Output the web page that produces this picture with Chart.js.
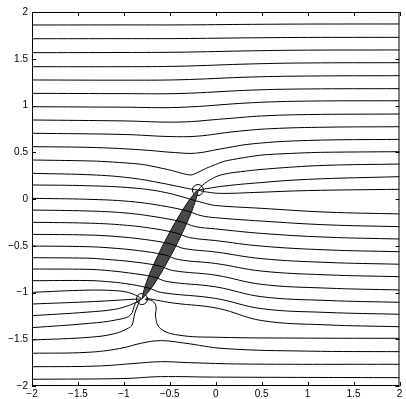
<!DOCTYPE html>
<html>
<head>
<meta charset="utf-8">
<script src="https://cdn.jsdelivr.net/npm/chart.js@4.4.1/dist/chart.umd.min.js"></script>
<style>
  html, body { margin: 0; padding: 0; background: #fff; }
  #wrap { width: 406px; height: 399px; }
</style>
</head>
<body>
<div id="wrap"><canvas id="flowChart" width="406" height="399"></canvas></div>
<script>
// axis ticks
const xTicks = [-2, -1.5, -1, -0.5, 0, 0.5, 1, 1.5, 2];
const yTicks = [-2, -1.5, -1, -0.5, 0, 0.5, 1, 1.5, 2];

// the two end points (circles)
const endPoints = [[-0.194, 0.096], [-0.803, -1.07]];

// dark band between the end points
const bandOutline = [[-0.803, -1.07], [-0.713, -0.968], [-0.603, -0.804], [-0.441, -0.517], [-0.298, -0.22],
    [-0.226, -0.035], [-0.194, 0.096], [-0.284, -0.006], [-0.394, -0.171], [-0.556, -0.457],
    [-0.699, -0.754], [-0.771, -0.938], [-0.803, -1.07]];

// streamlines (x, y)
const line01 = [[-2, 1.861], [-1, 1.862], [-0.4, 1.862], [0.4, 1.868], [1, 1.871], [2, 1.872]];
const line02 = [[-2, 1.714], [-1, 1.715], [-0.4, 1.716], [0.4, 1.724], [1, 1.728], [2, 1.729]];
const line03 = [[-2, 1.565], [-1, 1.567], [-0.4, 1.57], [0.4, 1.585], [1, 1.592], [2, 1.594]];
const line04 = [[-2, 1.415], [-1, 1.415], [-0.4, 1.42], [0.4, 1.445], [1, 1.455], [2, 1.458]];
const line05 = [[-2, 1.273], [-1, 1.271], [-0.4, 1.275], [0.4, 1.305], [1, 1.315], [2, 1.319]];
const line06 = [[-2, 1.13], [-1, 1.127], [-0.4, 1.128], [0.4, 1.165], [1, 1.177], [2, 1.18]];
const line07 = [[-2, 0.987], [-1, 0.982], [-0.4, 0.98], [0.4, 1.03], [1, 1.047], [2, 1.051]];
const line08 = [[-2, 0.845], [-1, 0.835], [-0.4, 0.823], [0.1, 0.858], [0.5, 0.888], [1, 0.903], [2, 0.909]];
const line09 = [[-2, 0.703], [-1, 0.69], [-0.5, 0.668], [-0.2, 0.672], [0.2, 0.72], [0.6, 0.752], [1.2, 0.768], [2, 0.773]];
const line10 = [[-2, 0.56], [-1.3, 0.55], [-0.8, 0.525], [-0.45, 0.497], [-0.22, 0.49], [0.05, 0.535], [0.4, 0.59], [1, 0.626], [2, 0.638]];
const line11 = [[-2, 0.417], [-1.3, 0.405], [-0.8, 0.37], [-0.5, 0.31], [-0.27, 0.257], [-0.1, 0.33], [0.1, 0.405], [0.5, 0.47], [1.1, 0.498], [2, 0.506]];
const line12 = [[-2, 0.275], [-1.3, 0.256], [-0.9, 0.222], [-0.6, 0.172], [-0.4, 0.132], [-0.26, 0.104], [-0.2, 0.097]];
// leaving the upper point
const line13 = [[-0.19, 0.1], [-0.14, 0.15], [-0.07, 0.2], [0.05, 0.255], [0.27, 0.292], [0.67, 0.33], [1.2, 0.36], [2, 0.374]];
const line14 = [[-0.19, 0.096], [-0.1, 0.11], [0.06, 0.135], [0.42, 0.17], [1, 0.21], [2, 0.239]];
const line15 = [[-0.19, 0.094], [-0.1, 0.075], [0.06, 0.06], [0.42, 0.07], [1, 0.09], [2, 0.104]];
// crossing the band
const line16 = [[-2, 0.15], [-1.4, 0.142], [-0.9, 0.118], [-0.55, 0.07], [-0.249, -0.01], [-0.1, -0.05], [0, -0.07], [0.5, -0.1], [1.2, -0.14], [2, -0.16]];
const line17 = [[-2, 0.007], [-1.4, -0.003], [-0.95, -0.025], [-0.6, -0.07], [-0.311, -0.128], [-0.161, -0.178], [0, -0.2], [0.5, -0.236], [1.2, -0.276], [2, -0.296]];
const line18 = [[-2, -0.118], [-1.4, -0.128], [-1, -0.148], [-0.66, -0.19], [-0.372, -0.245], [-0.222, -0.295], [0, -0.32], [0.5, -0.368], [1.2, -0.408], [2, -0.428]];
const line19 = [[-2, -0.249], [-1.4, -0.258], [-1.05, -0.275], [-0.72, -0.31], [-0.434, -0.363], [-0.284, -0.413], [0, -0.445], [0.5, -0.504], [1.2, -0.544], [2, -0.564]];
const line20 = [[-2, -0.378], [-1.4, -0.385], [-1.1, -0.4], [-0.78, -0.432], [-0.495, -0.48], [-0.345, -0.53], [0, -0.567], [0.5, -0.638], [1.2, -0.678], [2, -0.698]];
const line21 = [[-2, -0.503], [-1.4, -0.51], [-1.15, -0.523], [-0.84, -0.552], [-0.556, -0.598], [-0.406, -0.648], [0, -0.69], [0.5, -0.771], [1.2, -0.811], [2, -0.831]];
const line22 = [[-2, -0.628], [-1.4, -0.633], [-1.2, -0.645], [-0.9, -0.672], [-0.618, -0.715], [-0.468, -0.765], [0, -0.815], [0.5, -0.913], [1.2, -0.953], [2, -0.973]];
const line23 = [[-2, -0.749], [-1.4, -0.752], [-1.2, -0.763], [-0.95, -0.79], [-0.679, -0.833], [-0.529, -0.883], [0, -0.94], [0.5, -1.045], [1.2, -1.085], [2, -1.105]];
const line24 = [[-2, -0.874], [-1.4, -0.872], [-1.2, -0.882], [-0.98, -0.905], [-0.74, -0.95], [-0.59, -1.0], [0, -1.064], [0.5, -1.173], [1.2, -1.213], [2, -1.233]];
// into the lower point
const line25 = [[-2, -0.998], [-1.4, -0.975], [-1.1, -0.98], [-0.95, -1.0], [-0.85, -1.04], [-0.81, -1.065]];
const line26 = [[-2, -1.123], [-1.4, -1.1], [-1.1, -1.085], [-0.95, -1.075], [-0.81, -1.07]];
const line27 = [[-2, -1.248], [-1.4, -1.21], [-1.1, -1.18], [-0.95, -1.14], [-0.86, -1.1], [-0.81, -1.075]];
const line28 = [[-2, -1.376], [-1.376, -1.33], [-1.089, -1.294], [-0.928, -1.241], [-0.874, -1.116], [-0.82, -1.08]];
const line29 = [[-2, -1.508], [-1.376, -1.479], [-1.1, -1.44], [-0.95, -1.38], [-0.911, -1.348], [-0.88, -1.22], [-0.83, -1.09]];
// leaving / rounding the lower point
const line30 = [[-0.76, -1.06], [-0.6, -1.09], [-0.444, -1.115], [0.022, -1.169], [0.5, -1.3], [1.2, -1.346], [2, -1.366]];
const line31 = [[-0.77, -1.075], [-0.69, -1.09], [-0.65, -1.15], [-0.655, -1.259], [-0.605, -1.383], [-0.409, -1.455], [0.022, -1.479], [1, -1.488], [2, -1.49]];
// below
const line32 = [[-2, -1.65], [-1.4, -1.64], [-1.05, -1.6], [-0.8, -1.54], [-0.6, -1.515], [-0.35, -1.54], [0.1, -1.6], [1, -1.627], [2, -1.633]];
const line33 = [[-2, -1.794], [-1.3, -1.787], [-0.9, -1.76], [-0.6, -1.74], [-0.3, -1.75], [0.3, -1.765], [2, -1.768]];
const line34 = [[-2, -1.928], [-1, -1.92], [-0.6, -1.9], [0, -1.905], [2, -1.911]];

const streamlines = [line01, line02, line03, line04, line05, line06, line07, line08, line09, line10,
    line11, line12, line13, line14, line15, line16, line17, line18, line19, line20, line21, line22,
    line23, line24, line25, line26, line27, line28, line29, line30, line31, line32, line33, line34];

const toPoints = arr => arr.map(([x, y]) => ({ x, y }));
const fmt = v => (v < 0 ? '\u2212' + (-v) : String(v));

const datasets = streamlines.map(line => ({
    data: toPoints(line),
    showLine: true,
    borderColor: '#000',
    borderWidth: 1,
    pointRadius: 0,
    tension: line === line11 ? 0.2 : 0.4,
    fill: false
}));

datasets.push({
    data: toPoints(bandOutline),
    showLine: true,
    borderColor: '#111',
    borderWidth: 1,
    backgroundColor: '#4a4a4a',
    pointRadius: 0,
    tension: 0.3,
    fill: 'shape'
});

datasets.push({
    data: toPoints(endPoints),
    showLine: false,
    pointRadius: 5.5,
    pointBorderColor: '#000',
    pointBackgroundColor: 'rgba(0,0,0,0)',
    pointBorderWidth: 1
});

// frame and inward ticks on all four sides
const frameTicks = {
    id: 'frameTicks',
    afterDatasetsDraw(chart) {
        const { ctx, chartArea: a, scales } = chart;
        ctx.save();
        ctx.strokeStyle = '#000';
        ctx.lineWidth = 1;
        ctx.strokeRect(a.left + 0.5, a.top + 0.5, a.right - a.left - 1, a.bottom - a.top - 1);
        ctx.beginPath();
        xTicks.forEach(v => {
            const px = Math.round(scales.x.getPixelForValue(v)) + 0.5;
            ctx.moveTo(px, a.bottom); ctx.lineTo(px, a.bottom - 4);
            ctx.moveTo(px, a.top); ctx.lineTo(px, a.top + 4);
        });
        yTicks.forEach(v => {
            const py = Math.round(scales.y.getPixelForValue(v)) + 0.5;
            ctx.moveTo(a.left, py); ctx.lineTo(a.left + 4, py);
            ctx.moveTo(a.right, py); ctx.lineTo(a.right - 4, py);
        });
        ctx.stroke();
        ctx.restore();
    }
};

new Chart(document.getElementById('flowChart').getContext('2d'), {
    type: 'scatter',
    data: { datasets },
    options: {
        responsive: false,
        animation: false,
        layout: { padding: { top: 12, right: 2, left: 0, bottom: 0 } },
        plugins: { legend: { display: false }, tooltip: { enabled: false } },
        scales: {
            x: {
                min: -2, max: 2,
                afterFit: s => { s.height = 13; },
                afterBuildTicks: s => { s.ticks = xTicks.map(value => ({ value })); },
                grid: { display: false, drawTicks: false },
                border: { display: false },
                ticks: { padding: 2, maxRotation: 0, autoSkip: false, color: '#000',
                    font: { family: 'Liberation Sans', size: 10 }, callback: fmt }
            },
            y: {
                min: -2, max: 2,
                afterFit: s => { s.width = 32; },
                afterBuildTicks: s => { s.ticks = yTicks.map(value => ({ value })); },
                grid: { display: false, drawTicks: false },
                border: { display: false },
                ticks: { padding: 4, autoSkip: false, color: '#000',
                    font: { family: 'Liberation Sans', size: 10 }, callback: fmt }
            }
        }
    },
    plugins: [frameTicks]
});
</script>
</body>
</html>
